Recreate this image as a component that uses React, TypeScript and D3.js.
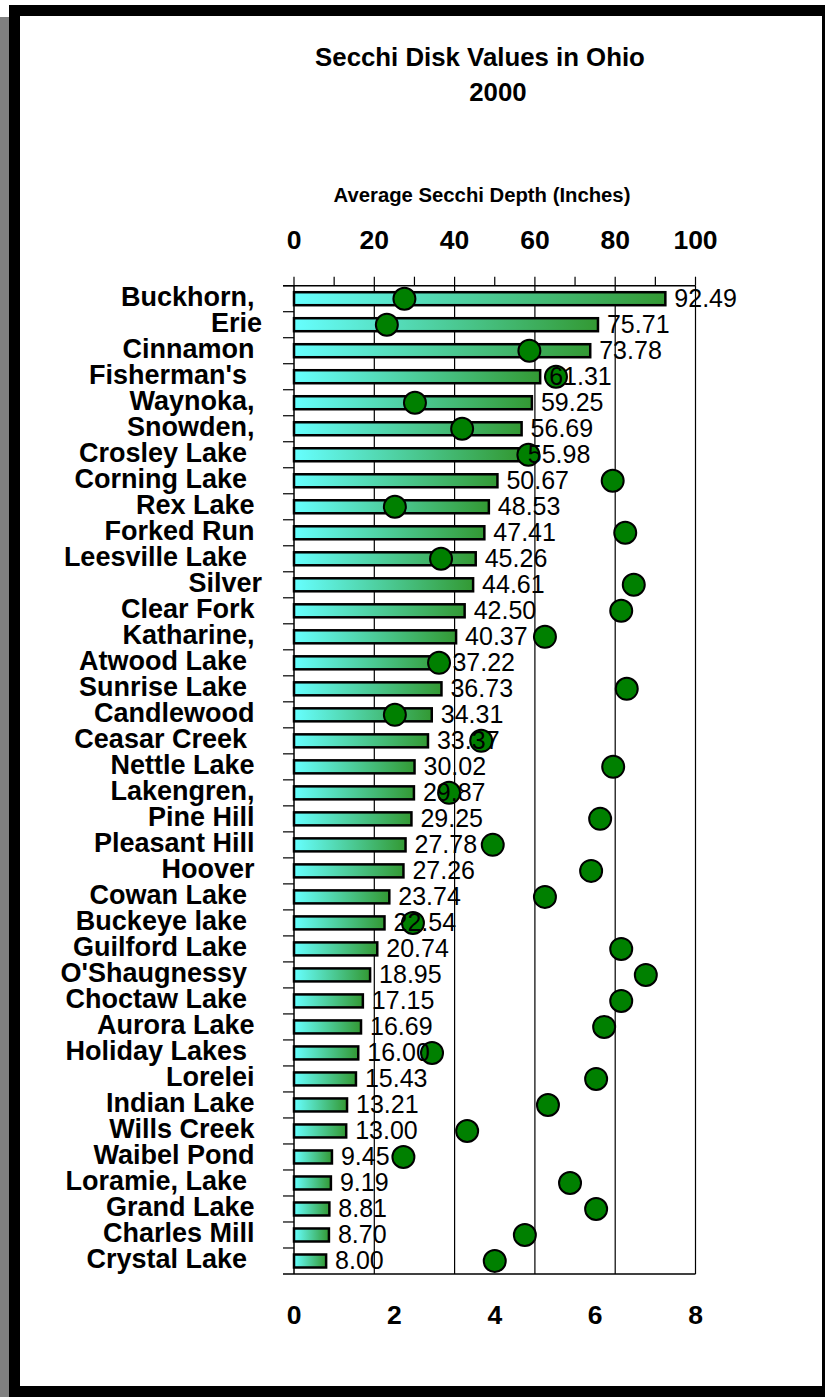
import React from "react";
import * as d3 from "d3";

const lakes = [
  "Buckhorn, ", "Erie", "Cinnamon ", "Fisherman's  ", "Waynoka, ", "Snowden, ",
  "Crosley Lake  ", "Corning Lake  ", "Rex Lake ", "Forked Run ", "Leesville Lake  ",
  "Silver", "Clear Fork ", "Katharine, ", "Atwood Lake  ", "Sunrise Lake  ",
  "Candlewood ", "Ceasar Creek  ", "Nettle Lake ", "Lakengren, ", "Pine Hill ",
  "Pleasant Hill ", "Hoover ", "Cowan Lake  ", "Buckeye lake  ", "Guilford Lake  ",
  "O'Shaugnessy  ", "Choctaw Lake  ", "Aurora Lake ", "Holiday Lakes  ", "Lorelei ",
  "Indian Lake ", "Wills Creek ", "Waibel Pond ", "Loramie, Lake  ", "Grand Lake ",
  "Charles Mill ", "Crystal Lake  ",
];

const depthInches = [
  92.49, 75.71, 73.78, 61.31, 59.25, 56.69, 55.98, 50.67, 48.53, 47.41, 45.26,
  44.61, 42.5, 40.37, 37.22, 36.73, 34.31, 33.37, 30.02, 29.87, 29.25, 27.78,
  27.26, 23.74, 22.54, 20.74, 18.95, 17.15, 16.69, 16.0, 15.43, 13.21, 13.0,
  9.45, 9.19, 8.81, 8.7, 8.0,
];

const secondaryValues = [
  2.2, 1.85, 4.69, 5.22, 2.41, 3.35, 4.67, 6.35, 2.01, 6.6, 2.93, 6.77, 6.52,
  5.0, 2.89, 6.63, 2.01, 3.73, 6.36, 3.09, 6.1, 3.96, 5.92, 5.0, 2.37, 6.52,
  7.01, 6.52, 6.18, 2.75, 6.02, 5.06, 3.45, 2.18, 5.5, 6.02, 4.6, 4.0,
];

const topTicks = [0, 20, 40, 60, 80, 100];
const bottomTicks = [0, 2, 4, 6, 8];
const titleLines = ["Secchi Disk Values in Ohio", "     2000"];
const axisTitle = "Average Secchi Depth (Inches)";

const FONT = "'Liberation Sans', Arial, Helvetica, sans-serif";

export default function App() {
  const W = 825;
  const H = 1397;
  const left = 294;
  const right = 695.5;
  const top = 285.7;
  const bottom = 1274;

  const x = d3.scaleLinear().domain([0, 100]).range([left, right]);
  const x2 = d3.scaleLinear().domain([0, 8]).range([left, right]);
  const y = d3
    .scaleBand<number>()
    .domain(d3.range(lakes.length))
    .range([top, bottom]);
  const bw = y.bandwidth();
  const barH = 13;

  const minorTicks = d3.range(0, 101, 10);

  return (
    <svg
      width={W}
      height={H}
      viewBox={`0 0 ${W} ${H}`}
      style={{ position: "absolute", left: 0, top: 0, display: "block" }}
    >
      <defs>
        <linearGradient id="barGrad" x1="0" y1="0" x2="1" y2="0">
          <stop offset="0%" stopColor="#66FFFF" />
          <stop offset="100%" stopColor="#339933" />
        </linearGradient>
      </defs>
      <rect x={0} y={0} width={W} height={H} fill="#ffffff" />
      {/* shadow + frame */}
      <rect x={0} y={17} width={9} height={H - 17} fill="#808080" />
      <rect x={9} y={5} width={W} height={H} fill="#000000" />
      <rect x={20} y={16} width={802} height={1370} fill="#ffffff" />

      {/* titles */}
      <g fontFamily={FONT} fontWeight="bold" fill="#000">
        {titleLines.map((t, i) => (
          <text key={i} x={480} y={66 + i * 35} textAnchor="middle" fontSize={25.8} xmlSpace="preserve">
            {t}
          </text>
        ))}
        <text x={482} y={202} textAnchor="middle" fontSize={20.3}>
          {axisTitle}
        </text>
      </g>

      {/* tick labels */}
      <g fontFamily={FONT} fontWeight="bold" fontSize={26.5} fill="#000">
        {topTicks.map((t) => (
          <text key={t} x={x(t)} y={249} textAnchor="middle">
            {t}
          </text>
        ))}
        {bottomTicks.map((t) => (
          <text key={t} x={x2(t)} y={1324} textAnchor="middle">
            {t}
          </text>
        ))}
      </g>

      {/* gridlines */}
      {topTicks.slice(1).map((t) => (
        <line key={t} x1={x(t)} x2={x(t)} y1={top} y2={bottom} stroke="#000" strokeWidth={1.2} />
      ))}
      {/* top axis */}
      <line x1={283} x2={right} y1={top} y2={top} stroke="#000" strokeWidth={1.5} />
      {minorTicks.map((t) => (
        <line key={t} x1={x(t)} x2={x(t)} y1={top - 9} y2={top} stroke="#000" strokeWidth={1.2} />
      ))}
      {/* bottom axis */}
      <line x1={283} x2={right} y1={bottom} y2={bottom} stroke="#000" strokeWidth={1.5} />
      {/* left axis */}
      <line x1={left} x2={left} y1={top} y2={bottom} stroke="#000" strokeWidth={1.5} />
      {d3.range(lakes.length).map((i) => (
        <line key={i} x1={283} x2={left} y1={y(i)!} y2={y(i)!} stroke="#000" strokeWidth={1.2} />
      ))}

      {/* bars */}
      {depthInches.map((v, i) => (
        <rect
          key={i}
          x={x(0)}
          y={y(i)! + bw / 2 - barH / 2}
          width={x(v) - x(0)}
          height={barH}
          fill="url(#barGrad)"
          stroke="#000"
          strokeWidth={2.5}
        />
      ))}

      {/* dots */}
      {secondaryValues.map((v, i) => (
        <circle
          key={i}
          cx={x2(v)}
          cy={y(i)! + bw / 2}
          r={11}
          fill="#008000"
          stroke="#000"
          strokeWidth={2}
        />
      ))}

      {/* data labels */}
      <g fontFamily={FONT} fontSize={25} fill="#000">
        {depthInches.map((v, i) => (
          <text key={i} x={x(v) + 9} y={y(i)! + bw / 2 + 8.5}>
            {v.toFixed(2)}
          </text>
        ))}
      </g>

      {/* category labels */}
      <g fontFamily={FONT} fontWeight="bold" fontSize={27} fill="#000">
        {lakes.map((n, i) => (
          <text key={i} x={262} y={y(i)! + bw / 2 + 7} textAnchor="end" xmlSpace="preserve">
            {n}
          </text>
        ))}
      </g>
    </svg>
  );
}
